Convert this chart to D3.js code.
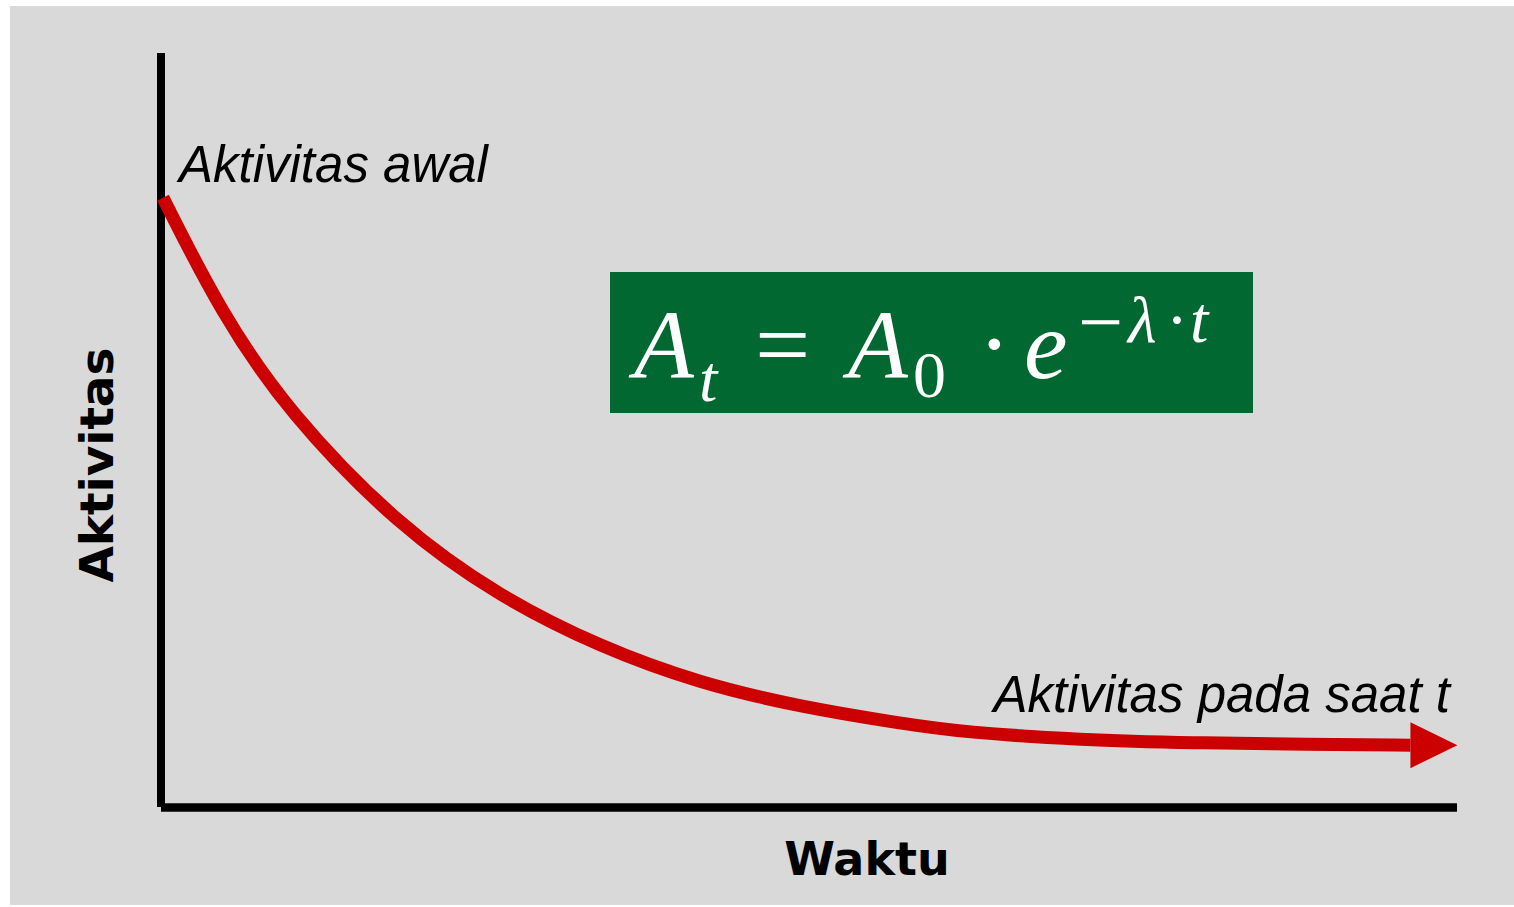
<!DOCTYPE html>
<html>
<head>
<meta charset="utf-8">
<script src="https://cdn.jsdelivr.net/npm/d3@7"></script>
<style>
  html, body { margin: 0; padding: 0; background: #fff; }
  svg { display: block; }
</style>
</head>
<body>
<div id="chart"></div>
<script>
// decay curve (time in arbitrary units, activity in %)
const time     = [0, 0.45, 0.97, 1.83, 2.60, 3.38, 4.15, 4.92, 5.70, 6.20, 7.09, 7.97, 8.86, 9.64];
const activity = [80.8, 65.5, 52.3, 37.1, 27.9, 21.2, 16.4, 13.3, 11.1, 9.9, 8.9, 8.5, 8.3, 8.2];

const labelStart = "Aktivitas awal";
const labelEnd = "Aktivitas pada saat t";
const xTitle = "Waktu";
const yTitle = "Aktivitas";

const W = 1514, H = 907;

const svg = d3.select("#chart")
    .append("svg")
    .attr("width", W)
    .attr("height", H);

// grey panel
svg.append("rect")
    .attr("x", 10).attr("y", 6)
    .attr("width", 1504).attr("height", 899)
    .attr("fill", "#d9d9d9");

const x = d3.scaleLinear()
    .domain([0, 10])
    .range([163, 1457]);

const y = d3.scaleLinear()
    .domain([0, 100])
    .range([807, 53]);

// axes (plain lines, no ticks)
svg.append("line")
    .attr("x1", 161).attr("x2", 161)
    .attr("y1", y(100)).attr("y2", y(0))
    .attr("stroke", "#000").attr("stroke-width", 8);

svg.append("line")
    .attr("x1", 161).attr("x2", x(10))
    .attr("y1", y(0) + 0.5).attr("y2", y(0) + 0.5)
    .attr("stroke", "#000").attr("stroke-width", 8.5);

// decay curve
const data = time.map((t, i) => ({ t: t, a: activity[i] }));

const line = d3.line()
    .x(d => x(d.t))
    .y(d => y(d.a))
    .curve(d3.curveBasis);

svg.append("path")
    .datum(data)
    .attr("d", line)
    .attr("fill", "none")
    .attr("stroke", "#cc0000")
    .attr("stroke-width", 13);

// arrow head at the end of the curve
const last = data[data.length - 1];
const ex = x(last.t), ey = y(last.a);
svg.append("path")
    .attr("d", `M${ex},${ey - 23}L${ex + 47},${ey}L${ex},${ey + 23}Z`)
    .attr("fill", "#cc0000");

// annotations
svg.append("text")
    .attr("x", 179).attr("y", 182)
    .attr("font-family", "'Liberation Sans', Arial, sans-serif")
    .attr("font-style", "italic")
    .attr("font-size", 51)
    .text(labelStart);

svg.append("text")
    .attr("x", 1450).attr("y", 712)
    .attr("text-anchor", "end")
    .attr("font-family", "'Liberation Sans', Arial, sans-serif")
    .attr("font-style", "italic")
    .attr("font-size", 51)
    .text(labelEnd);

// axis titles
svg.append("text")
    .attr("x", 867).attr("y", 875)
    .attr("text-anchor", "middle")
    .attr("font-family", "'DejaVu Sans', sans-serif")
    .attr("font-weight", "bold")
    .attr("font-size", 46)
    .text(xTitle);

svg.append("text")
    .attr("transform", "translate(113,465) rotate(-90)")
    .attr("text-anchor", "middle")
    .attr("font-family", "'DejaVu Sans', sans-serif")
    .attr("font-weight", "bold")
    .attr("font-size", 47)
    .text(yTitle);

// formula box
svg.append("rect")
    .attr("x", 610).attr("y", 272)
    .attr("width", 643).attr("height", 141)
    .attr("fill", "#006830");

const fg = svg.append("g")
    .attr("fill", "#fff")
    .attr("font-family", "'Liberation Serif', 'DejaVu Serif', serif");

const pieces = [
  { s: "A", x: 634, y: 377, size: 98, it: true },
  { s: "t", x: 699, y: 401, size: 66, it: true },
  { s: "=", x: 755, y: 377, size: 98, it: false },
  { s: "A", x: 848, y: 377, size: 98, it: true },
  { s: "0", x: 913, y: 397, size: 66, it: false },
  { s: "·", x: 978, y: 377, size: 98, it: false },
  { s: "e", x: 1024, y: 378, size: 98, it: true },
  { s: "−", x: 1078, y: 349, size: 80, it: false },
  { s: "λ", x: 1128, y: 342, size: 66, it: true },
  { s: "·", x: 1166, y: 342, size: 66, it: false },
  { s: "t", x: 1190, y: 342, size: 66, it: true }
];

fg.selectAll("text")
    .data(pieces)
    .enter().append("text")
    .attr("x", d => d.x)
    .attr("y", d => d.y)
    .attr("font-size", d => d.size)
    .attr("font-style", d => d.it ? "italic" : "normal")
    .text(d => d.s);
</script>
</body>
</html>
